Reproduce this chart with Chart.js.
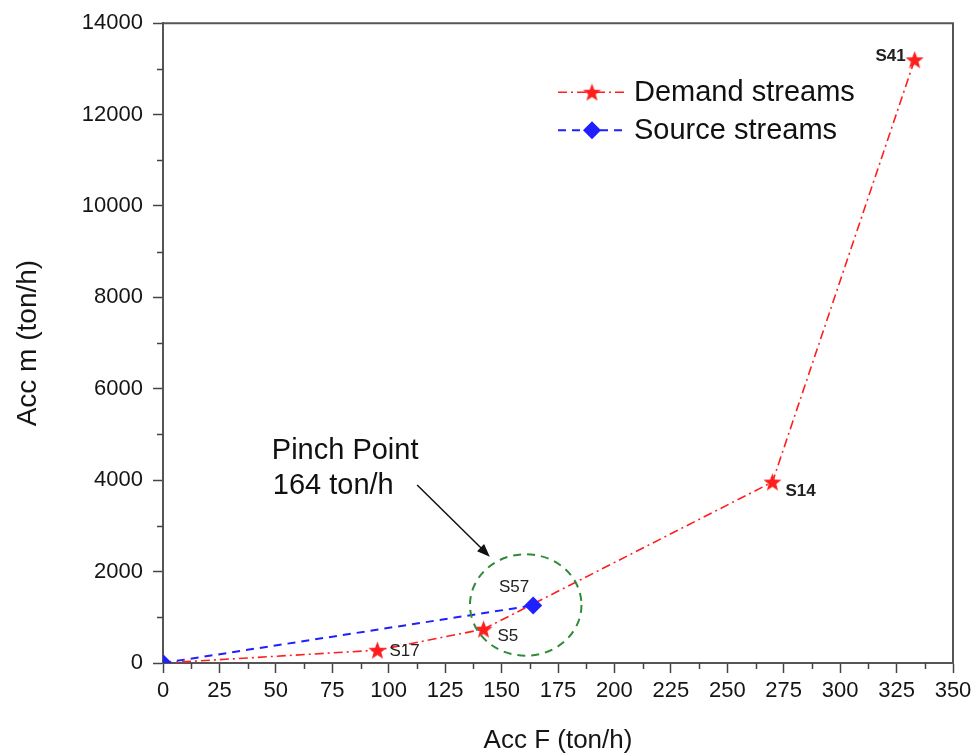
<!DOCTYPE html>
<html>
<head>
<meta charset="utf-8">
<script src="https://cdn.jsdelivr.net/npm/chart.js@4/dist/chart.umd.min.js"></script>
<style>
  html, body { margin: 0; padding: 0; background: #fff; }
  #wrap { width: 978px; height: 756px; }
</style>
</head>
<body>
<div id="wrap"><canvas id="c" width="978" height="756"></canvas></div>
<script>
// Accumulated flow (F) vs accumulated load (m) composite curves
const demandF = [0, 95, 142, 270, 333];
const demandM = [0, 280, 740, 3960, 13200];
const demandLabels = ['', 'S17', 'S5', 'S14', 'S41'];

const sourceF = [0, 164];
const sourceM = [0, 1260];
const sourceLabels = ['', 'S57'];

const xTickValues = [0, 25, 50, 75, 100, 125, 150, 175, 200, 225, 250, 275, 300, 325, 350];
const yTickValues = [0, 2000, 4000, 6000, 8000, 10000, 12000, 14000];

const pinchFlow = 164;
const seriesNames = ['Demand streams', 'Source streams'];

const FONT = '"Liberation Sans", Arial, Helvetica, sans-serif';
const RED = '#ff1e1e';
const BLUE = '#1f1fff';
const DEMAND_DASH = [9, 4, 2, 4];
const SOURCE_DASH = [8, 6];

// filled five-point star used as the demand marker
function makeStar(outer, color) {
  const size = Math.ceil(outer * 2 + 2);
  const cv = document.createElement('canvas');
  cv.width = size; cv.height = size;
  const g = cv.getContext('2d');
  const c = size / 2, inner = outer * 0.42;
  g.beginPath();
  for (let i = 0; i < 10; i++) {
    const r = i % 2 === 0 ? outer : inner;
    const a = -Math.PI / 2 + i * Math.PI / 5;
    const px = c + r * Math.cos(a), py = c + r * Math.sin(a) + outer * 0.08;
    if (i === 0) g.moveTo(px, py); else g.lineTo(px, py);
  }
  g.closePath();
  g.fillStyle = color;
  g.fill();
  return cv;
}
const starImg = makeStar(9.5, RED);

const demandPoints = demandF.map((f, i) => ({ x: f, y: demandM[i] }));
const sourcePoints = sourceF.map((f, i) => ({ x: f, y: sourceM[i] }));

function drawDiamond(ctx, x, y, r, color) {
  ctx.beginPath();
  ctx.moveTo(x, y - r); ctx.lineTo(x + r, y); ctx.lineTo(x, y + r); ctx.lineTo(x - r, y);
  ctx.closePath();
  ctx.fillStyle = color;
  ctx.fill();
}

const decor = {
  id: 'decor',
  beforeDatasetsDraw(chart) {
    const { ctx, chartArea: a, scales } = chart;
    const xs = scales.x, ys = scales.y;
    ctx.save();
    // minor ticks
    ctx.strokeStyle = '#444';
    ctx.lineWidth = 1.5;
    ctx.beginPath();
    for (let i = 0; i < xTickValues.length - 1; i++) {
      const v = (xTickValues[i] + xTickValues[i + 1]) / 2;
      const px = Math.round(xs.getPixelForValue(v)) + 0.5;
      ctx.moveTo(px, a.bottom); ctx.lineTo(px, a.bottom + 6);
    }
    for (let i = 0; i < yTickValues.length - 1; i++) {
      const v = (yTickValues[i] + yTickValues[i + 1]) / 2;
      const py = Math.round(ys.getPixelForValue(v)) + 0.5;
      ctx.moveTo(a.left, py); ctx.lineTo(a.left - 6, py);
    }
    ctx.stroke();
    // frame on the top and right sides
    ctx.strokeStyle = '#555';
    ctx.lineWidth = 2;
    ctx.beginPath();
    ctx.moveTo(a.left, a.top); ctx.lineTo(a.right, a.top); ctx.lineTo(a.right, a.bottom);
    ctx.stroke();
    ctx.restore();
  },
  afterDatasetsDraw(chart) {
    const { ctx, chartArea: a, scales } = chart;
    const xs = scales.x, ys = scales.y;
    const X = v => xs.getPixelForValue(v);
    const Y = v => ys.getPixelForValue(v);
    ctx.save();

    // point labels
    ctx.fillStyle = '#222';
    ctx.textBaseline = 'middle';
    const place = {
      S17: { dx: 12, dy: 1, align: 'left', bold: false },
      S5: { dx: 14, dy: 7, align: 'left', bold: false },
      S14: { dx: 13, dy: 9, align: 'left', bold: true },
      S41: { dx: -9, dy: -3, align: 'right', bold: true },
      S57: { dx: -4, dy: -18, align: 'right', bold: false }
    };
    const label = (txt, f, m) => {
      const p = place[txt];
      if (!p) return;
      ctx.font = (p.bold ? 'bold ' : '') + '17px ' + FONT;
      ctx.textAlign = p.align;
      ctx.fillText(txt, X(f) + p.dx, Y(m) + p.dy);
    };
    demandLabels.forEach((t, i) => t && label(t, demandF[i], demandM[i]));
    sourceLabels.forEach((t, i) => t && label(t, sourceF[i], sourceM[i]));

    // dashed ring around the pinch point
    const cx = X(pinchFlow - 3.3), cy = Y(1270);
    const rx = X(pinchFlow - 3.3 + 24.7) - cx, ry = cy - Y(1270 + 1110);
    ctx.strokeStyle = '#2e8b37';
    ctx.lineWidth = 2;
    ctx.setLineDash([8, 6]);
    ctx.beginPath();
    ctx.ellipse(cx, cy, rx, ry, 0, 0, Math.PI * 2);
    ctx.stroke();
    ctx.setLineDash([]);

    // arrow to the pinch point
    const x1 = X(112.6), y1 = Y(3894), x2 = X(144.8), y2 = Y(2326);
    const ang = Math.atan2(y2 - y1, x2 - x1);
    ctx.strokeStyle = '#111';
    ctx.fillStyle = '#111';
    ctx.lineWidth = 1.5;
    ctx.beginPath();
    ctx.moveTo(x1, y1);
    ctx.lineTo(x2 - 8 * Math.cos(ang), y2 - 8 * Math.sin(ang));
    ctx.stroke();
    ctx.beginPath();
    ctx.moveTo(x2, y2);
    ctx.lineTo(x2 - 13 * Math.cos(ang) + 5 * Math.sin(ang), y2 - 13 * Math.sin(ang) - 5 * Math.cos(ang));
    ctx.lineTo(x2 - 13 * Math.cos(ang) - 5 * Math.sin(ang), y2 - 13 * Math.sin(ang) + 5 * Math.cos(ang));
    ctx.closePath();
    ctx.fill();

    // annotation text
    ctx.fillStyle = '#111';
    ctx.font = '29px ' + FONT;
    ctx.textAlign = 'left';
    ctx.textBaseline = 'alphabetic';
    const tx = X(48.2), ty = Y(4463);
    ctx.fillText('Pinch Point', tx, ty);
    ctx.fillText(pinchFlow + ' ton/h', tx + 1, ty + 35);

    // legend
    const lx0 = a.left + 395, lx1 = a.left + 462, mx = a.left + 429, tx0 = a.left + 471;
    const rows = [
      { y: a.top + 69, color: RED, dash: DEMAND_DASH, w: 1.6, marker: 'star' },
      { y: a.top + 107, color: BLUE, dash: SOURCE_DASH, w: 2, marker: 'diamond' }
    ];
    rows.forEach((r, i) => {
      ctx.strokeStyle = r.color;
      ctx.lineWidth = r.w;
      ctx.setLineDash(r.dash);
      ctx.beginPath();
      ctx.moveTo(lx0, r.y); ctx.lineTo(lx1, r.y);
      ctx.stroke();
      ctx.setLineDash([]);
      if (r.marker === 'star') {
        ctx.drawImage(starImg, mx - starImg.width / 2, r.y - starImg.height / 2);
      } else {
        drawDiamond(ctx, mx, r.y, 9, BLUE);
      }
      ctx.fillStyle = '#111';
      ctx.font = '29px ' + FONT;
      ctx.textAlign = 'left';
      ctx.textBaseline = 'middle';
      ctx.fillText(seriesNames[i], tx0, r.y + 1);
    });

    ctx.restore();
  }
};

new Chart(document.getElementById('c'), {
  type: 'scatter',
  data: {
    datasets: [
      {
        label: seriesNames[0],
        data: demandPoints,
        showLine: true,
        borderColor: RED,
        borderWidth: 1.6,
        borderDash: DEMAND_DASH,
        pointStyle: starImg,
        pointRadius: demandLabels.map(t => (t ? 9 : 0)),
        backgroundColor: RED,
        clip: 0,
        order: 1
      },
      {
        label: seriesNames[1],
        data: sourcePoints,
        showLine: true,
        borderColor: BLUE,
        borderWidth: 2,
        borderDash: SOURCE_DASH,
        pointStyle: 'rectRot',
        pointRadius: 9,
        pointBorderWidth: 0,
        pointBackgroundColor: BLUE,
        pointBorderColor: BLUE,
        clip: 0,
        order: 0
      }
    ]
  },
  options: {
    responsive: false,
    animation: false,
    devicePixelRatio: 1,
    events: [],
    layout: { padding: { top: 23, right: 25, left: 0, bottom: 0 } },
    plugins: { legend: { display: false }, tooltip: { enabled: false } },
    scales: {
      x: {
        type: 'linear',
        min: 0, max: 350,
        afterBuildTicks: s => { s.ticks = xTickValues.map(v => ({ value: v })); },
        afterFit: s => { s.height = 93; },
        border: { display: true, color: '#555', width: 2 },
        grid: { drawOnChartArea: false, drawTicks: true, tickLength: 10, tickColor: '#444', tickWidth: 1.5 },
        ticks: {
          autoSkip: false, maxRotation: 0, padding: 5,
          color: '#151515',
          font: { family: FONT, size: 22 },
          callback: v => String(v)
        },
        title: {
          display: true, text: 'Acc F (ton/h)', color: '#151515',
          font: { family: FONT, size: 26 },
          padding: { top: 0, bottom: 0 }
        }
      },
      y: {
        type: 'linear',
        min: 0, max: 14000,
        afterBuildTicks: s => { s.ticks = yTickValues.map(v => ({ value: v })); },
        afterFit: s => { s.width = 163; },
        border: { display: true, color: '#555', width: 2 },
        grid: { drawOnChartArea: false, drawTicks: true, tickLength: 10, tickColor: '#444', tickWidth: 1.5 },
        ticks: {
          padding: 10,
          color: '#151515',
          font: { family: FONT, size: 22 },
          callback: v => String(v)
        },
        title: {
          display: true, text: 'Acc m (ton/h)', color: '#151515',
          font: { family: FONT, size: 28 },
          padding: { top: 11, bottom: 0 }
        }
      }
    }
  },
  plugins: [decor]
});
</script>
</body>
</html>
